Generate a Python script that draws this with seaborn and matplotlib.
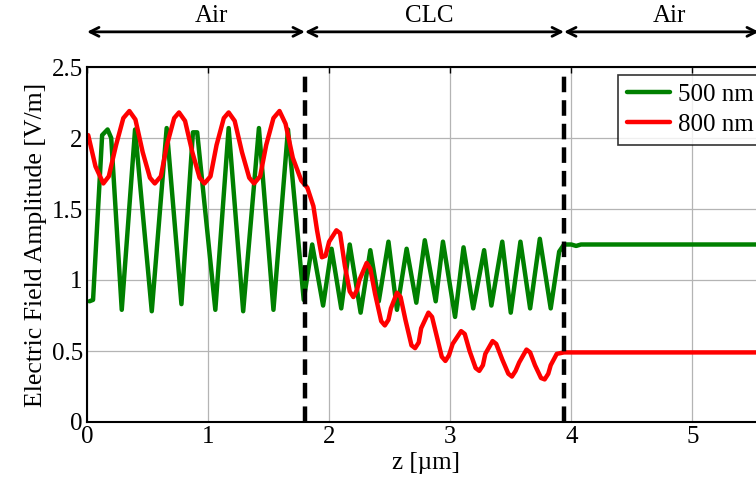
import pandas as pd
import matplotlib
matplotlib.use("Agg")
import matplotlib.pyplot as plt
import seaborn as sns
from matplotlib.lines import Line2D

# values (extrema and a few shoulder points)
green_z = [0.02, 0.05, 0.125, 0.17, 0.20, 0.287, 0.397, 0.535, 0.658, 0.78, 0.875, 0.91,
           1.06, 1.17, 1.29, 1.42, 1.54, 1.66, 1.79, 1.86, 1.95, 2.02, 2.10, 2.17, 2.26,
           2.34, 2.41, 2.49, 2.56, 2.64, 2.72, 2.79, 2.88, 2.94, 3.04, 3.11, 3.19, 3.28,
           3.34, 3.43, 3.50, 3.58, 3.66, 3.74, 3.83, 3.90, 3.94, 4.00, 4.04, 4.08, 5.70]
green_e = [0.85, 0.86, 2.02, 2.06, 2.00, 0.79, 2.06, 0.78, 2.07, 0.83, 2.04, 2.04,
           0.79, 2.07, 0.78, 2.07, 0.79, 2.06, 0.86, 1.25, 0.82, 1.22, 0.80, 1.25, 0.77,
           1.21, 0.85, 1.27, 0.79, 1.22, 0.84, 1.28, 0.85, 1.27, 0.74, 1.23, 0.80, 1.21,
           0.82, 1.27, 0.77, 1.27, 0.80, 1.29, 0.80, 1.20, 1.25, 1.25, 1.24, 1.25, 1.25]

red_z = [0.01, 0.07, 0.135, 0.18, 0.24, 0.30, 0.35, 0.40, 0.46, 0.52, 0.56, 0.61,
         0.66, 0.72, 0.76, 0.81, 0.87, 0.93, 0.97, 1.02, 1.07, 1.13, 1.17, 1.22,
         1.28, 1.34, 1.38, 1.43, 1.48, 1.54, 1.59, 1.64, 1.70, 1.77, 1.82, 1.87,
         1.90, 1.94, 1.97, 2.00, 2.06, 2.09, 2.13, 2.17, 2.20, 2.23, 2.25, 2.31,
         2.34, 2.38, 2.43, 2.46, 2.49, 2.51, 2.56, 2.59, 2.63, 2.68, 2.71, 2.74,
         2.76, 2.82, 2.85, 2.89, 2.93, 2.96, 2.99, 3.02, 3.09, 3.12, 3.16, 3.21,
         3.24, 3.27, 3.29, 3.35, 3.38, 3.43, 3.48, 3.51, 3.54, 3.57, 3.63, 3.66,
         3.70, 3.75, 3.78, 3.81, 3.83, 3.88, 3.94, 5.70]
red_e = [2.02, 1.80, 1.68, 1.73, 1.95, 2.14, 2.19, 2.13, 1.90, 1.72, 1.68, 1.73,
         1.95, 2.14, 2.18, 2.12, 1.90, 1.72, 1.68, 1.73, 1.95, 2.14, 2.18, 2.12,
         1.90, 1.72, 1.68, 1.73, 1.95, 2.14, 2.19, 2.10, 1.86, 1.70, 1.65, 1.52,
         1.35, 1.16, 1.17, 1.27, 1.35, 1.33, 1.10, 0.92, 0.88, 0.93, 1.00, 1.12,
         1.08, 0.90, 0.71, 0.68, 0.72, 0.80, 0.91, 0.88, 0.72, 0.54, 0.52, 0.56,
         0.66, 0.77, 0.74, 0.60, 0.46, 0.43, 0.47, 0.55, 0.64, 0.62, 0.50, 0.38,
         0.36, 0.40, 0.48, 0.57, 0.55, 0.44, 0.34, 0.32, 0.36, 0.42, 0.51, 0.49,
         0.40, 0.31, 0.30, 0.34, 0.40, 0.48, 0.49, 0.49]

interfaces = [1.8, 3.94]
regions = ["Air", "CLC", "Air"]
region_edges = [0, 1.8, 3.94, 5.55]
region_label_x = [1.03, 2.83, 4.81]

df = pd.concat([
    pd.DataFrame({"z": green_z, "E": green_e, "wl": "500 nm"}),
    pd.DataFrame({"z": red_z, "E": red_e, "wl": "800 nm"}),
])

sns.set_theme(style="white")
plt.rcParams["font.family"] = ["Liberation Serif", "DejaVu Serif"]
plt.rcParams["text.color"] = "black"
plt.rcParams["axes.labelcolor"] = "black"

fig = plt.figure(figsize=(7.56, 4.83), dpi=100)
# the axes run a little past the right edge of the picture, as in the reference
ax = fig.add_axes([87 / 756, 61 / 483, (765 - 87) / 756, 355 / 483])

sns.lineplot(data=df, x="z", y="E", hue="wl", palette=["#008000", "#ff0000"],
             sort=False, estimator=None, lw=3.2, ax=ax, legend=False)

for zi in interfaces:
    ax.plot([zi, zi], [0, 2.48], color="black", lw=3.2, ls=(0, (3.5, 1.8)), zorder=5)

ax.set_xlim(0, 5.6)
ax.set_ylim(0, 2.5)
ax.set_xticks([0, 1, 2, 3, 4, 5])
ax.set_yticks([0, 0.5, 1, 1.5, 2, 2.5])
ax.set_yticklabels(["0", "0.5", "1", "1.5", "2", "2.5"])
ax.grid(True, color="#b4b4b4", lw=0.9)
ax.tick_params(direction="in", length=4, width=1, labelsize=18, colors="black",
               top=True, right=True, pad=3)
for s in ax.spines.values():
    s.set_color("black")
    s.set_linewidth(1.5)

ax.set_xlabel("z [µm]", fontsize=18, labelpad=3)
ax.set_ylabel("Electric Field Amplitude [V/m]", fontsize=18.5, labelpad=3)

# legend
handles = [Line2D([], [], color="#008000", lw=3.2), Line2D([], [], color="#ff0000", lw=3.2)]
leg = ax.legend(handles, ["500 nm", "800 nm"], loc="upper left",
                bbox_to_anchor=(0.783, 0.978), fontsize=18, frameon=True,
                fancybox=False, handlelength=1.75, handletextpad=0.3,
                borderpad=0.35, labelspacing=0.3, borderaxespad=0)
leg.get_frame().set_edgecolor("black")
leg.get_frame().set_linewidth(1.2)

# region arrows above the axes
for i, name in enumerate(regions):
    ax.annotate("", xy=(region_edges[i + 1], 1.099), xytext=(region_edges[i], 1.099),
                xycoords=("data", "axes fraction"), textcoords=("data", "axes fraction"),
                arrowprops=dict(arrowstyle="<->", lw=2, color="black", mutation_scale=16,
                                shrinkA=0, shrinkB=0),
                annotation_clip=False)
    ax.text(region_label_x[i], 1.145, name, transform=ax.get_xaxis_transform(),
            ha="center", va="center", fontsize=18)

fig.savefig("out.png", dpi=100)
